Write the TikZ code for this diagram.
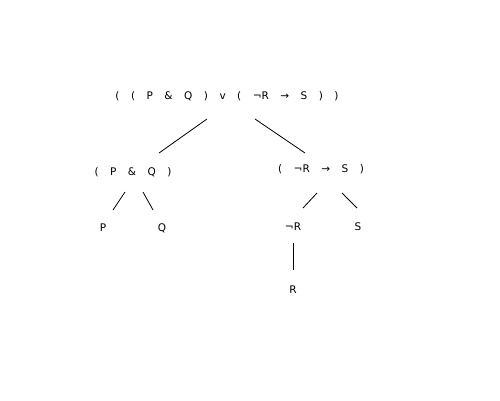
\documentclass[tikz,border=0pt]{standalone}
\usepackage{fontspec}
\setmainfont{DejaVu Sans}

\newcommand{\formulafont}{\fontsize{10.5}{12}\selectfont\spaceskip 11.5pt plus 0pt\relax}

\tikzset{
  formula/.style={inner sep=1pt, font={\formulafont}},
  branch/.style={line width=0.8pt, color=black}
}

\begin{document}
\begin{tikzpicture}[x=1pt, y=-1pt]
\useasboundingbox (0,0) rectangle (500,400);

% formulas
\node[formula] (root) at (227, 96) {( ( P \& Q ) v ( ¬R → S ) )};
\node[formula] (pq)   at (133,172) {( P \& Q )};
\node[formula] (rs)   at (321,169) {( ¬R → S )};

\node[formula] (p)  at (103,228) {P};
\node[formula] (q)  at (162,228) {Q};
\node[formula] (nr) at (293,227) {¬R};
\node[formula] (s)  at (358,227) {S};
\node[formula] (r)  at (293,290) {R};

% branches
\draw[branch] ([shift={(-20,23)}]root.center) -- ([shift={(26,-19)}]pq.center);
\draw[branch] ([shift={(28,23)}]root.center)  -- ([shift={(-16,-16)}]rs.center);

\draw[branch] ([shift={(-8,20)}]pq.center) -- ([shift={(10,-18)}]p.center);
\draw[branch] ([shift={(10,20)}]pq.center) -- ([shift={(-9,-18)}]q.center);

\draw[branch] ([shift={(-4,24)}]rs.center) -- ([shift={(10,-19)}]nr.center);
\draw[branch] ([shift={(21,24)}]rs.center) -- ([shift={(-1,-19)}]s.center);

\draw[branch] ([shift={(0,16)}]nr.center) -- ([shift={(0,-20)}]r.center);

\end{tikzpicture}
\end{document}
